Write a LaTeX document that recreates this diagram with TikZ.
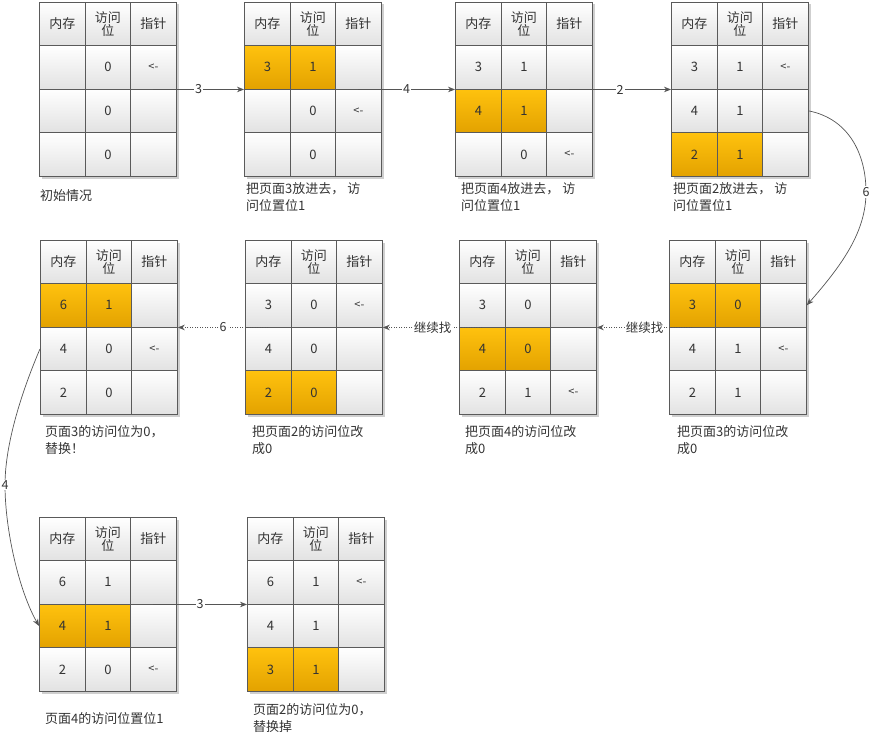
\documentclass[tikz,border=0pt]{standalone}
\usepackage{fontspec}
\setmainfont{Noto Sans CJK SC}
\usetikzlibrary{arrows.meta,calc}
\definecolor{bordc}{HTML}{5A5A5A}
\definecolor{txtc}{HTML}{333333}
\definecolor{orgtop}{HTML}{FFC20E}
\definecolor{orgbot}{HTML}{E3A200}
\definecolor{celltop}{HTML}{FFFFFF}
\definecolor{cellbot}{HTML}{E2E2E2}
\definecolor{linec}{HTML}{555555}
\definecolor{shadc}{HTML}{CFCFCF}
\tikzset{
 cellbase/.style={draw=bordc, line width=0.8pt, inner sep=0pt, anchor=north west, text=txtc, font=\fontsize{13}{14}\selectfont, align=center},
 plaincell/.style={cellbase, top color=celltop, bottom color=cellbot},
 hicell/.style={cellbase, top color=orgtop, bottom color=orgbot},
 conn/.style={draw=linec, line width=0.7pt, -{Stealth[length=7pt,width=5.5pt]}},
 dotconn/.style={conn, dash pattern=on 1.2pt off 1.3pt},
 lbl/.style={fill=white, inner sep=1pt, text=txtc, font=\fontsize{12.5}{13}\selectfont},
 capt/.style={anchor=north west, text=txtc, font=\fontsize{13}{17}\selectfont, align=left, inner sep=0pt},
}
% prefix, x, y
\newcommand{\memhead}[3]{%
 \fill[shadc] (#2+2.5,#3+2.5) rectangle ++(137,174);
 \node[plaincell, minimum width=46pt, minimum height=43pt] (#1-0-1) at (#2,#3) {内存};
 \node[plaincell, minimum width=45pt, minimum height=43pt] (#1-0-2) at (#2+46,#3) {访问\\[-1pt]位};
 \node[plaincell, minimum width=46pt, minimum height=43pt] (#1-0-3) at (#2+91,#3) {指针};
}
% prefix, row, x, y, style, a, b, c
\newcommand{\memrow}[8]{%
 \node[#5, minimum width=46pt, minimum height=43.67pt] (#1-#2-1) at (#3,#4) {#6};
 \node[#5, minimum width=45pt, minimum height=43.67pt] (#1-#2-2) at (#3+46,#4) {#7};
 \node[plaincell, minimum width=46pt, minimum height=43.67pt] (#1-#2-3) at (#3+91,#4) {{\fontsize{11}{12}\selectfont #8}};
}
\begin{document}
\begin{tikzpicture}[x=1pt,y=-1pt]
\useasboundingbox (0,0) rectangle (874,741);
% ---------- row 1 ----------
\memhead{T1}{39}{2}
\memrow{T1}{1}{39}{45}{plaincell}{}{0}{<-}
\memrow{T1}{2}{39}{88.67}{plaincell}{}{0}{}
\memrow{T1}{3}{39}{132.33}{plaincell}{}{0}{}

\memhead{T2}{244}{2}
\memrow{T2}{1}{244}{45}{hicell}{3}{1}{}
\memrow{T2}{2}{244}{88.67}{plaincell}{}{0}{<-}
\memrow{T2}{3}{244}{132.33}{plaincell}{}{0}{}

\memhead{T3}{455}{2}
\memrow{T3}{1}{455}{45}{plaincell}{3}{1}{}
\memrow{T3}{2}{455}{88.67}{hicell}{4}{1}{}
\memrow{T3}{3}{455}{132.33}{plaincell}{}{0}{<-}

\memhead{T4}{671}{2}
\memrow{T4}{1}{671}{45}{plaincell}{3}{1}{<-}
\memrow{T4}{2}{671}{88.67}{plaincell}{4}{1}{}
\memrow{T4}{3}{671}{132.33}{hicell}{2}{1}{}

% ---------- row 2 ----------
\memhead{A}{40}{240}
\memrow{A}{1}{40}{283}{hicell}{6}{1}{}
\memrow{A}{2}{40}{326.67}{plaincell}{4}{0}{<-}
\memrow{A}{3}{40}{370.33}{plaincell}{2}{0}{}

\memhead{B}{245}{240}
\memrow{B}{1}{245}{283}{plaincell}{3}{0}{<-}
\memrow{B}{2}{245}{326.67}{plaincell}{4}{0}{}
\memrow{B}{3}{245}{370.33}{hicell}{2}{0}{}

\memhead{C}{459}{240}
\memrow{C}{1}{459}{283}{plaincell}{3}{0}{}
\memrow{C}{2}{459}{326.67}{hicell}{4}{0}{}
\memrow{C}{3}{459}{370.33}{plaincell}{2}{1}{<-}

\memhead{D}{669}{240}
\memrow{D}{1}{669}{283}{hicell}{3}{0}{}
\memrow{D}{2}{669}{326.67}{plaincell}{4}{1}{<-}
\memrow{D}{3}{669}{370.33}{plaincell}{2}{1}{}

% ---------- row 3 ----------
\memhead{E}{39}{517}
\memrow{E}{1}{39}{560}{plaincell}{6}{1}{}
\memrow{E}{2}{39}{603.67}{hicell}{4}{1}{}
\memrow{E}{3}{39}{647.33}{plaincell}{2}{0}{<-}

\memhead{F}{247}{517}
\memrow{F}{1}{247}{560}{plaincell}{6}{1}{<-}
\memrow{F}{2}{247}{603.67}{plaincell}{4}{1}{}
\memrow{F}{3}{247}{647.33}{hicell}{3}{1}{}

% ---------- captions ----------
\node[capt] (c1) at (40,189) {初始情况};
\node[capt] (c2) at (246,182) {把页面3放进去， 访\\问位置位1};
\node[capt] (c3) at (461,182) {把页面4放进去， 访\\问位置位1};
\node[capt] (c4) at (673,182) {把页面2放进去， 访\\问位置位1};
\node[capt] (cA) at (45,425) {页面3的访问位为0，\\替换！};
\node[capt] (cB) at (252,425) {把页面2的访问位改\\成0};
\node[capt] (cC) at (465,425) {把页面4的访问位改\\成0};
\node[capt] (cD) at (677,425) {把页面3的访问位改\\成0};
\node[capt] (cE) at (45,712) {页面4的访问位置位1};
\node[capt] (cF) at (253,703) {页面2的访问位为0，\\替换掉};

% ---------- connectors ----------
\draw[conn] (T1-1-3.south) -- node[lbl]{3} (T2-1-1.south west);
\draw[conn] (T2-1-3.south) -- node[lbl]{4} (T3-1-1.south west);
\draw[conn] (T3-1-3.south) -- node[lbl]{2} (T4-1-1.south west);
\draw[conn] (T4-2-3.east) .. controls +(40,8) and +(0,-38) .. (866,192) node[lbl]{6}
  .. controls +(0,40) and +(35,-40) .. (D-1-3.east);
\draw[dotconn] (D-1-1.south) -- node[lbl]{继续找} (C-1-3.south east);
\draw[dotconn] (C-1-1.south) -- node[lbl]{继续找} (B-1-3.south east);
\draw[dotconn] (B-1-1.south) -- node[lbl]{6} (A-1-3.south east);
\draw[conn] (A-2-1.west) .. controls +(-15,35) and +(0,-45) .. (5,485) node[lbl]{4}
  .. controls +(0,45) and +(-20,-35) .. (E-2-1.west);
\draw[conn] (E-1-3.south) -- node[lbl]{3} (F-1-1.south west);
\end{tikzpicture}
\end{document}
